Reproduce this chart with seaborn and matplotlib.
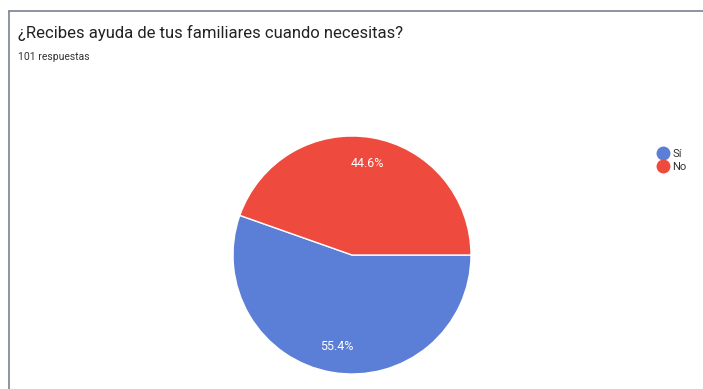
import seaborn as sns
import matplotlib.pyplot as plt
from matplotlib.lines import Line2D

labels = ["Sí", "No"]
values = [55.4, 44.6]
colors = ["#5b7ed6", "#ee4a3d"]

sns.set_theme(style="white")
plt.rcParams['font.family'] = ['Roboto', 'DejaVu Sans']

fig = plt.figure(figsize=(7.03, 3.89), dpi=100)

# card border (top + left)
fig.add_artist(Line2D([9/703, 1], [1 - 11/389, 1 - 11/389], color="#7a8290", lw=1.2))
fig.add_artist(Line2D([9/703, 9/703], [0, 1 - 11/389], color="#7a8290", lw=1.2))

fig.text(18/703, 1 - 33/389, "¿Recibes ayuda de tus familiares cuando necesitas?",
         fontsize=12, color="#222222", va="center")
fig.text(18/703, 1 - 57/389, "101 respuestas", fontsize=7.5, color="#333333", va="center")

ax = fig.add_axes([233/703, 1 - 374/389, 238/703, 238/389])
wedges, texts, autotexts = ax.pie(values, colors=colors, startangle=0, counterclock=False,
                                  autopct="%.1f%%", pctdistance=0.78,
                                  wedgeprops=dict(edgecolor="white", linewidth=1),
                                  textprops=dict(color="white", fontsize=9))
ax.set_xlim(-1, 1)
ax.set_ylim(-1, 1)
ax.set_aspect("equal")

handles = [Line2D([0], [0], marker="o", linestyle="", markersize=9,
                  markerfacecolor=c, markeredgecolor=c) for c in colors]
fig.legend(handles, labels, loc="upper left", bbox_to_anchor=(647/703, 1 - 139/389),
           frameon=False, fontsize=8, handletextpad=0.4, labelspacing=0.3,
           handlelength=1.0, labelcolor="#333333")

fig.savefig("out.png", dpi=100)
